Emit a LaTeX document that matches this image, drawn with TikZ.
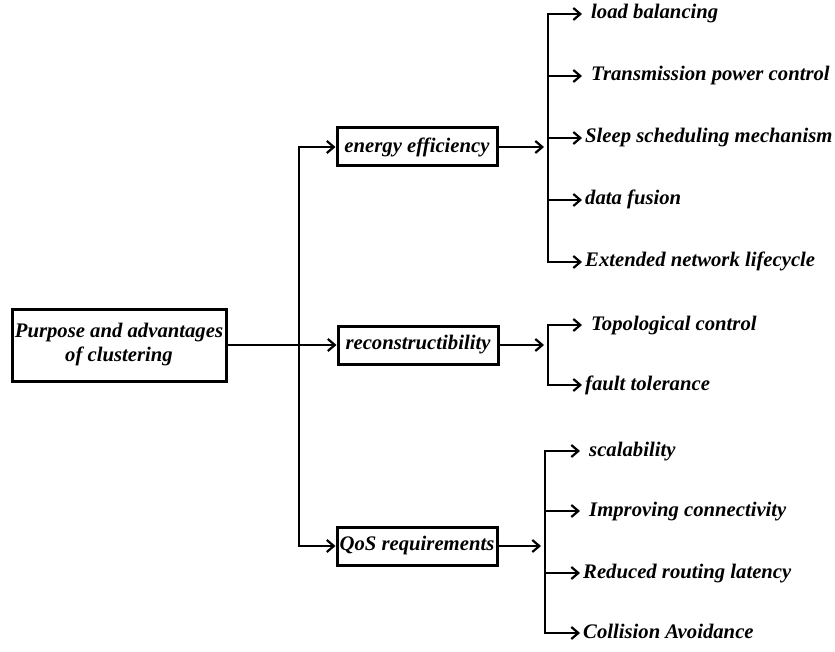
\documentclass[tikz,border=0pt]{standalone}
\usepackage{fontspec}
\setmainfont{Liberation Serif}
\usetikzlibrary{positioning,arrows.meta}

\begin{document}
\begin{tikzpicture}[x=1pt,y=-1pt,font=\fontsize{20.7}{24}\selectfont\bfseries\itshape,
  zweig/.style={draw,line width=3pt,minimum width=160pt,minimum height=38pt,inner sep=2pt},
  blatt/.style={anchor=west,inner ysep=0pt,inner xsep=3pt,text height=14pt,text depth=4pt},
  luft/.style={inner xsep=9pt},
  pfeil/.style={line width=2.2pt,-{Straight Barb[length=7pt,width=12pt]}}]
  \useasboundingbox (0,0) rectangle (835,652);
  \node[zweig,minimum width=214pt,minimum height=72pt,align=center] (ziel) at (119,345) {Purpose and advantages\\of clustering};
  \node[zweig] (ee) at (417,147) {energy efficiency};
  \node[zweig] (rc) at (418,345) {reconstructibility};
  \node[zweig] (qos) at (417,546) {QoS requirements};
  \coordinate (tr) at (299,345);
  \coordinate (eb) at (548,147);
  \coordinate (rb) at (548,345);
  \coordinate (qb) at (545,546);
  % energy efficiency
  \node[blatt,luft] (e1) at (582,14) {load balancing};
  \node[blatt,luft] (e2) at (582,76) {Transmission power control};
  \node[blatt] (e3) at (582,138) {Sleep scheduling mechanism};
  \node[blatt] (e4) at (582,200) {data fusion};
  \node[blatt] (e5) at (582,262) {Extended network lifecycle};
  % reconstructibility
  \node[blatt,luft] (r1) at (582,325) {Topological control};
  \node[blatt] (r2) at (582,385) {fault tolerance};
  % QoS
  \node[blatt,luft] (q1) at (580,451) {scalability};
  \node[blatt,luft] (q2) at (580,511) {Improving connectivity};
  \node[blatt] (q3) at (580,573) {Reduced routing latency};
  \node[blatt] (q4) at (580,633) {Collision Avoidance};
  % connectors
  \draw[pfeil] (ziel.east) -- (rc.west);
  \foreach \z in {ee,qos} \draw[pfeil] (tr) |- (\z.west);
  \foreach \a/\b in {ee/eb,rc/rb,qos/qb} \draw[pfeil,shorten >=4pt] (\a.east) -- (\b);
  \foreach \b in {e1,e2,e3,e4,e5} \draw[pfeil] (eb) |- (\b.west);
  \foreach \b in {r1,r2} \draw[pfeil] (rb) |- (\b.west);
  \foreach \b in {q1,q2,q3,q4} \draw[pfeil] (qb) |- (\b.west);
\end{tikzpicture}
\end{document}
